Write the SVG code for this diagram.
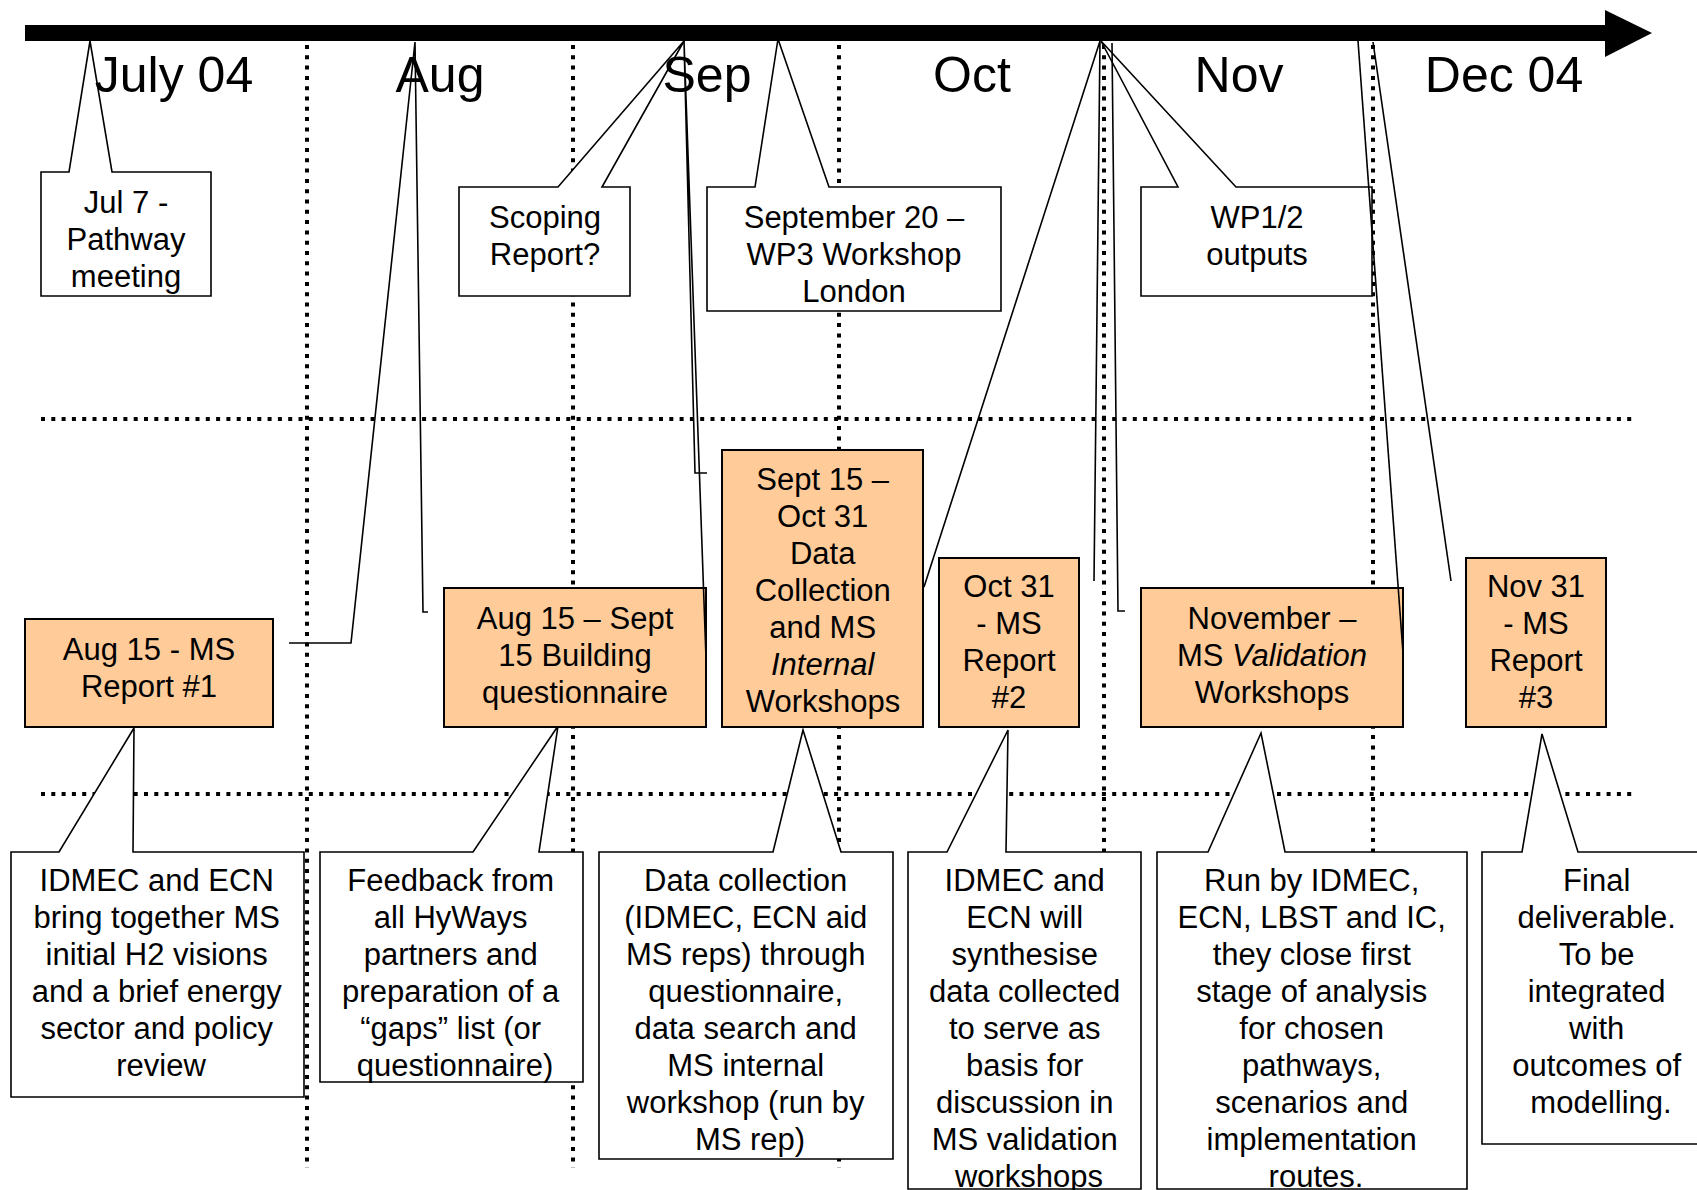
<svg xmlns="http://www.w3.org/2000/svg" width="1697" height="1190" viewBox="0 0 1697 1190">
  <style>
    .grid { stroke: #000; stroke-width: 4; stroke-dasharray: 4 6.3; fill: none; }
    .callout { fill: #fff; stroke: #000; stroke-width: 1.6; stroke-linejoin: miter; }
    .task { fill: #FFCC99; stroke: #000; stroke-width: 2; }
    .conn { fill: none; stroke: #000; stroke-width: 1.6; }
    .month { font-family: "Liberation Sans", Arial, sans-serif; font-size: 50px; fill: #000; text-anchor: middle; }
    .lbl { font-family: "Liberation Sans", Arial, sans-serif; font-size: 31px; fill: #000; text-anchor: middle; }
    .it { font-style: italic; }
  </style>

  <!-- month grid -->
  <g id="grid">
    <line class="grid" x1="307" y1="45" x2="307" y2="1168"/>
    <line class="grid" x1="573" y1="45" x2="573" y2="1168"/>
    <line class="grid" x1="839" y1="45" x2="839" y2="1168"/>
    <line class="grid" x1="1104" y1="45" x2="1104" y2="1168"/>
    <line class="grid" x1="1373" y1="45" x2="1373" y2="1168"/>
    <line class="grid" x1="41" y1="419" x2="1633" y2="419"/>
    <line class="grid" x1="41" y1="794" x2="1633" y2="794"/>
  </g>

  <!-- milestone callouts above the task row -->
  <g id="jul7">
    <path class="callout" d="M41,172 L69,172 L90,41 L112,172 L211,172 L211,296 L41,296 Z"/>
    <text class="lbl"><tspan x="126" y="213">Jul 7 -</tspan><tspan x="126" y="250">Pathway</tspan><tspan x="126" y="287">meeting</tspan></text>
  </g>
  <g id="scoping">
    <path class="callout" d="M459,187 L558,187 L684,41 L602,187 L630,187 L630,296 L459,296 Z"/>
    <text class="lbl"><tspan x="545" y="228">Scoping</tspan><tspan x="545" y="265">Report?</tspan></text>
  </g>
  <g id="wp3-workshop">
    <path class="callout" d="M707,187 L755,187 L778,39 L829,187 L1001,187 L1001,311 L707,311 Z"/>
    <text class="lbl"><tspan x="854" y="228">September 20 –</tspan><tspan x="854" y="265">WP3 Workshop</tspan><tspan x="854" y="302">London</tspan></text>
  </g>
  <g id="wp12-outputs">
    <path class="callout" d="M1141,187 L1178,187 L1101,41 L1236,187 L1372,187 L1372,296 L1141,296 Z"/>
    <text class="lbl"><tspan x="1257" y="228">WP1/2</tspan><tspan x="1257" y="265">outputs</tspan></text>
  </g>

  <!-- description callouts below the task row -->
  <g id="desc-report1">
    <path class="callout" d="M11,852 L59,852 L134,728 L133,852 L304,852 L304,1097 L11,1097 Z"/>
    <text class="lbl">
      <tspan x="161" y="891">IDMEC and ECN</tspan>
      <tspan x="161" y="928">bring together MS</tspan>
      <tspan x="161" y="965">initial H2 visions</tspan>
      <tspan x="161" y="1002">and a brief energy</tspan>
      <tspan x="161" y="1039">sector and policy</tspan>
      <tspan x="161" y="1076">review</tspan>
    </text>
  </g>
  <g id="desc-questionnaire">
    <path class="callout" d="M320,852 L473,852 L558,726 L539,852 L583,852 L583,1082 L320,1082 Z"/>
    <text class="lbl">
      <tspan x="455" y="891">Feedback from</tspan>
      <tspan x="455" y="928">all HyWays</tspan>
      <tspan x="455" y="965">partners and</tspan>
      <tspan x="455" y="1002">preparation of a</tspan>
      <tspan x="455" y="1039">“gaps” list (or</tspan>
      <tspan x="455" y="1076">questionnaire)</tspan>
    </text>
  </g>
  <g id="desc-data-collection">
    <path class="callout" d="M599,852 L773,852 L803,730 L841,852 L893,852 L893,1159 L599,1159 Z"/>
    <text class="lbl">
      <tspan x="750" y="891">Data collection</tspan>
      <tspan x="750" y="928">(IDMEC, ECN aid</tspan>
      <tspan x="750" y="965">MS reps) through</tspan>
      <tspan x="750" y="1002">questionnaire,</tspan>
      <tspan x="750" y="1039">data search and</tspan>
      <tspan x="750" y="1076">MS internal</tspan>
      <tspan x="750" y="1113">workshop (run by</tspan>
      <tspan x="750" y="1150">MS rep)</tspan>
    </text>
  </g>
  <g id="desc-report2">
    <path class="callout" d="M908,852 L947,852 L1008,730 L1006,852 L1141,852 L1141,1189 L908,1189 Z"/>
    <text class="lbl">
      <tspan x="1029" y="891">IDMEC and</tspan>
      <tspan x="1029" y="928">ECN will</tspan>
      <tspan x="1029" y="965">synthesise</tspan>
      <tspan x="1029" y="1002">data collected</tspan>
      <tspan x="1029" y="1039">to serve as</tspan>
      <tspan x="1029" y="1076">basis for</tspan>
      <tspan x="1029" y="1113">discussion in</tspan>
      <tspan x="1029" y="1150">MS validation</tspan>
      <tspan x="1029" y="1187">workshops</tspan>
    </text>
  </g>
  <g id="desc-validation">
    <path class="callout" d="M1157,852 L1208,852 L1261,733 L1285,852 L1467,852 L1467,1189 L1157,1189 Z"/>
    <text class="lbl">
      <tspan x="1316" y="891">Run by IDMEC,</tspan>
      <tspan x="1316" y="928">ECN, LBST and IC,</tspan>
      <tspan x="1316" y="965">they close first</tspan>
      <tspan x="1316" y="1002">stage of analysis</tspan>
      <tspan x="1316" y="1039">for chosen</tspan>
      <tspan x="1316" y="1076">pathways,</tspan>
      <tspan x="1316" y="1113">scenarios and</tspan>
      <tspan x="1316" y="1150">implementation</tspan>
      <tspan x="1316" y="1187">routes.</tspan>
    </text>
  </g>
  <g id="desc-report3">
    <path class="callout" d="M1482,852 L1522,852 L1542,734 L1578,852 L1712,852 L1712,1144 L1482,1144 Z"/>
    <text class="lbl">
      <tspan x="1601" y="891">Final</tspan>
      <tspan x="1601" y="928">deliverable.</tspan>
      <tspan x="1601" y="965">To be</tspan>
      <tspan x="1601" y="1002">integrated</tspan>
      <tspan x="1601" y="1039">with</tspan>
      <tspan x="1601" y="1076">outcomes of</tspan>
      <tspan x="1601" y="1113">modelling.</tspan>
    </text>
  </g>

  <!-- task row -->
  <g id="task-report1">
    <rect class="task" x="25" y="619" width="248" height="108"/>
    <text class="lbl"><tspan x="149" y="660">Aug 15 - MS</tspan><tspan x="149" y="697">Report #1</tspan></text>
  </g>
  <g id="task-questionnaire">
    <rect class="task" x="444" y="588" width="262" height="139"/>
    <text class="lbl"><tspan x="575" y="629">Aug 15 – Sept</tspan><tspan x="575" y="666">15 Building</tspan><tspan x="575" y="703">questionnaire</tspan></text>
  </g>
  <g id="task-data-collection">
    <rect class="task" x="722" y="450" width="201" height="277"/>
    <text class="lbl">
      <tspan x="827" y="490">Sept 15 –</tspan>
      <tspan x="827" y="527">Oct 31</tspan>
      <tspan x="827" y="564">Data</tspan>
      <tspan x="827" y="601">Collection</tspan>
      <tspan x="827" y="638">and MS</tspan>
      <tspan x="827" y="675" class="it">Internal</tspan>
      <tspan x="823" y="712">Workshops</tspan>
    </text>
  </g>
  <g id="task-report2">
    <rect class="task" x="939" y="558" width="140" height="169"/>
    <text class="lbl"><tspan x="1009" y="597">Oct 31</tspan><tspan x="1009" y="634">- MS</tspan><tspan x="1009" y="671">Report</tspan><tspan x="1009" y="708">#2</tspan></text>
  </g>
  <g id="task-validation">
    <rect class="task" x="1141" y="588" width="262" height="139"/>
    <text class="lbl"><tspan x="1272" y="629">November –</tspan><tspan x="1272" y="666">MS <tspan class="it">Validation</tspan></tspan><tspan x="1272" y="703">Workshops</tspan></text>
  </g>
  <g id="task-report3">
    <rect class="task" x="1466" y="558" width="140" height="169"/>
    <text class="lbl"><tspan x="1536" y="597">Nov 31</tspan><tspan x="1536" y="634">- MS</tspan><tspan x="1536" y="671">Report</tspan><tspan x="1536" y="708">#3</tspan></text>
  </g>

  <!-- pointer lines from tasks to the timeline -->
  <g id="connectors">
    <polyline class="conn" points="289,643 351,643 415,42 423,612 428,612"/>
    <polyline class="conn" points="707,473 695,473 684,41 706,658"/>
    <polyline class="conn" points="924,587 1100,41 1094,581"/>
    <polyline class="conn" points="1112,43 1118,611 1125,611"/>
    <polyline class="conn" points="1403,653 1358,41"/>
    <polyline class="conn" points="1373,42 1451,581"/>
  </g>

  <!-- timeline arrow -->
  <g id="timeline">
    <rect x="25" y="25" width="1582" height="16" fill="#000"/>
    <polygon points="1605,10 1652,33 1605,57" fill="#000"/>
  </g>

  <!-- month labels -->
  <g id="months">
    <text class="month" x="174" y="92">July 04</text>
    <text class="month" x="440" y="92">Aug</text>
    <text class="month" x="707" y="92">Sep</text>
    <text class="month" x="972" y="92">Oct</text>
    <text class="month" x="1239" y="92">Nov</text>
    <text class="month" x="1504" y="92">Dec 04</text>
  </g>
</svg>
